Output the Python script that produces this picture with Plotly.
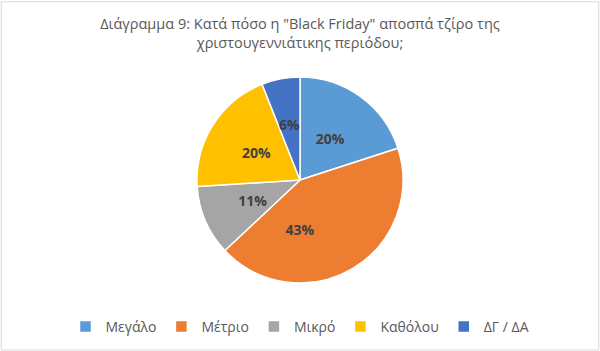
import plotly.graph_objects as go

categories = ["Μεγάλο", "Μέτριο", "Μικρό", "Καθόλου", "ΔΓ / ΔΑ"]
values = [20, 43, 11, 20, 6]
colors = ["#5B9BD5", "#ED7D31", "#A5A5A5", "#FFC000", "#4472C4"]
title_text = 'Διάγραμμα 9: Κατά πόσο η "Black Friday" αποσπά τζίρο της<br>χριστουγεννιάτικης περιόδου;'

W, H = 600, 351
cx, cy, r = 300, 180, 103
FONT = "Open Sans"


def dom(rad):
    return dict(x=[(cx - rad) / W, (cx + rad) / W], y=[(H - cy - rad) / H, (H - cy + rad) / H])


fig = go.Figure()
fig.add_trace(go.Pie(
    labels=categories,
    values=values,
    sort=False,
    direction="clockwise",
    rotation=0,
    marker=dict(colors=colors, line=dict(color="white", width=1.5)),
    textinfo="none",
    domain=dom(r),
    hoverinfo="label+percent",
))
# transparent ring carrying the percentage labels at about half the radius
ro = 0.65 * r
fig.add_trace(go.Pie(
    labels=categories,
    values=values,
    sort=False,
    direction="clockwise",
    rotation=0,
    hole=0.54,
    marker=dict(colors=["rgba(0,0,0,0)"] * len(values), line=dict(width=0)),
    texttemplate="<b>%{percent:.0%}</b>",
    textposition="inside",
    insidetextorientation="horizontal",
    textfont=dict(family=FONT, size=14, color="#404040"),
    domain=dom(ro),
    showlegend=False,
    hoverinfo="skip",
))

fig.update_layout(
    width=W, height=H,
    margin=dict(l=0, r=0, t=0, b=0),
    paper_bgcolor="white",
    uniformtext=dict(minsize=14, mode="show"),
    font=dict(family=FONT, color="#595959"),
    title=dict(text=title_text, x=0.5, xanchor="center", y=1 - 29 / H, yanchor="middle",
               font=dict(family=FONT, size=14.5, color="#595959")),
    legend=dict(orientation="h", x=0.5, xanchor="center", y=(H - 327) / H, yanchor="middle",
                font=dict(family=FONT, size=14, color="#595959"),
                itemwidth=30, traceorder="normal"),
    shapes=[dict(type="rect", xref="paper", yref="paper", x0=0.002, y0=0.003, x1=0.998, y1=0.995,
                 line=dict(color="#D9D9D9", width=1))],
)

fig.write_html("out.html")
